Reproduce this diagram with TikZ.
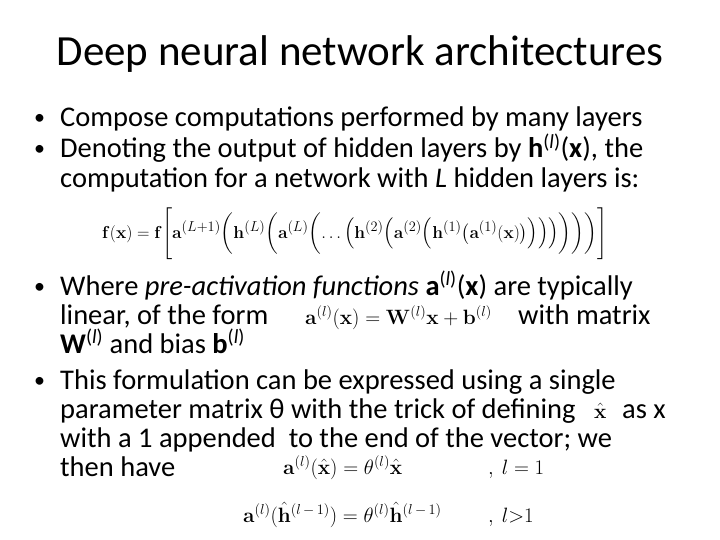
\documentclass[tikz,border=0pt]{standalone}
\usepackage{amsmath,bm}
\usepackage[no-math]{fontspec}
\setmainfont{Carlito}
\begin{document}
\begin{tikzpicture}[x=1pt,y=-1pt,
  txt/.style={anchor=base west,inner sep=0pt,font=\fontsize{28.5}{32}\selectfont},
  bul/.style={anchor=base west,inner sep=0pt,font=\fontsize{22}{26}\selectfont},
  eq/.style={anchor=base west,inner sep=0pt,font=\fontsize{20}{24}\selectfont}]
\useasboundingbox (0,0) rectangle (720,540);
\node[inner sep=0pt,anchor=base,font=\fontsize{43}{48}\selectfont] (title) at (360,66) {Deep neural network architectures};
\node[bul] (b1) at (34,125) {•};
\node[txt] (l1) at (60,127) {Compose computations performed by many layers};
\node[bul] (b2) at (34,156) {•};
\node[txt] (l2) at (60,158) {Denoting the output of hidden layers by \textbf{h}\textsuperscript{(\textit{l})}(\textbf{x}), the};
\node[txt] (l3) at (60,188) {computation for a network with \textit{L} hidden layers is:};
\node[anchor=base west,inner sep=0pt,font=\fontsize{19}{22}\selectfont] (f1) at (102,238)
 {$\mathbf{f}(\mathbf{x})=\mathbf{f}\Biggl[\mathbf{a}^{(L+1)}\biggl(\mathbf{h}^{(L)}\biggl(\mathbf{a}^{(L)}\biggl(\ldots\Bigl(\mathbf{h}^{(2)}\Bigl(\mathbf{a}^{(2)}\Bigl(\mathbf{h}^{(1)}\bigl(\mathbf{a}^{(1)}(\mathbf{x})\bigr)\Bigr)\Bigr)\Bigr)\biggr)\biggr)\biggr)\Biggr]$};
\node[bul] (b3) at (34,293) {•};
\node[txt] (l4) at (60,295) {Where \textit{pre-activation functions} \textbf{a}\textsuperscript{(\textit{l})}(\textbf{x}) are typically};
\node[txt] (l5) at (60,324) {linear, of the form};
\node[eq] (f2) at (305,324) {$\mathbf{a}^{(l)}(\mathbf{x})=\mathbf{W}^{(l)}\mathbf{x}+\mathbf{b}^{(l)}$};
\node[txt] (l5b) at (518,324) {with matrix};
\node[txt] (l6) at (60,353) {\textbf{W}\textsuperscript{(\textit{l})} and bias \textbf{b}\textsuperscript{(\textit{l})}};
\node[bul] (b4) at (34,387) {•};
\node[txt] (l7) at (60,389) {This formulation can be expressed using a single};
\node[txt] (l8) at (60,418) {parameter matrix θ with the trick of defining};
\node[eq] (xh) at (594,418) {$\hat{\mathbf{x}}$};
\node[txt] (l8b) at (622,418) {as x};
\node[txt] (l9) at (60,447) {with a 1 appended\ \ to the end of the vector; we};
\node[txt] (l10) at (60,476) {then have};
\node[eq] (f3) at (283,474) {$\mathbf{a}^{(l)}(\hat{\mathbf{x}})=\theta^{(l)}\hat{\mathbf{x}}$};
\node[eq] (f3b) at (488,474) {$,\ l=1$};
\node[eq] (f4) at (243,522) {$\mathbf{a}^{(l)}(\hat{\mathbf{h}}^{(l\,-\,1)})=\theta^{(l)}\hat{\mathbf{h}}^{(l\,-\,1)}$};
\node[eq] (f4b) at (488,522) {$,\ l{>}1$};
\end{tikzpicture}
\end{document}
